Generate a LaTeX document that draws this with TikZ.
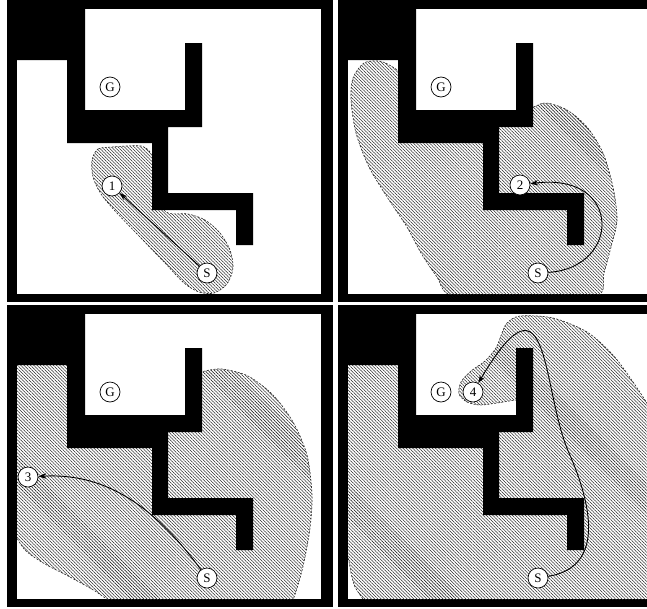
\documentclass[tikz,border=0pt]{standalone}
\usepackage{fontspec}
\setmainfont{Liberation Serif}
\usetikzlibrary{patterns.meta,arrows.meta}
\tikzset{
  region/.style={draw=black!85, dash pattern=on 2pt off 1.5pt, line width=0.6pt,
    pattern={Lines[angle=-45,distance=2.3pt,line width=0.55pt]}, pattern color=black!85},
  place/.style={circle, draw, fill=white, line width=0.7pt, minimum size=20pt, inner sep=0pt,
    font=\fontsize{13}{13}\selectfont},
  patharrow/.style={line width=0.9pt, -{Stealth[length=8pt,width=5.5pt]}},
}
\newcommand\mazebase{%
  \fill[black] (7,0) rectangle (333,302);
  \fill[white] (17,9) rectangle (321,294);}
\newcommand\mazewalls{%
  \fill[black] (17,9) -- (85,9) -- (85,110) -- (185,110) -- (185,43) -- (202,43) -- (202,127)
    -- (168,127) -- (168,193) -- (253,193) -- (253,245) -- (236,245) -- (236,210) -- (152,210)
    -- (152,143) -- (67,143) -- (67,60) -- (17,60) -- cycle;}
\newcommand\mazeclip{\clip (17,9) rectangle (321,294);}
\begin{document}
\begin{tikzpicture}[x=1pt,y=-1pt]
\useasboundingbox (0,0) rectangle (647,608);
\fill[white] (0,0) rectangle (647,608);
% ---------------- panel 1
\begin{scope}
  \mazebase
  \begin{scope}\mazeclip
    \filldraw[region] plot[smooth cycle] coordinates {(92,160) (98,149) (112,147) (127,146) (141,146) (150,152) (156,170) (158,200) (168,213) (188,214) (205,220) (220,233) (230,250) (233,268) (227,284) (214,293) (199,292) (184,283) (165,263) (140,237) (116,212) (101,194) (93,177)};
  \end{scope}
  \mazewalls
  \node[place] (G1) at (110,87) {G};
  \node[place] (n1) at (112,186) {1};
  \node[place] (S1) at (207,273) {S};
  \draw[patharrow] (S1) -- (n1);
\end{scope}
% ---------------- panel 2
\begin{scope}[shift={(331,0)}]
  \mazebase
  \begin{scope}\mazeclip
    \filldraw[region] plot[smooth cycle] coordinates {(72,100) (70,75) (60,66) (48,61) (33,63) (22,78) (20,100) (25,133) (38,167) (58,200) (76,227) (90,253) (106,277) (122,296) (200,302) (266,296) (273,273) (280,247) (286,220) (282,187) (272,153) (256,127) (236,110) (215,103) (200,108) (150,128) (90,128)};
  \end{scope}
  \mazewalls
  \node[place] (G2) at (110,87) {G};
  \node[place] (n2) at (189,185) {2};
  \node[place] (S2) at (207,273) {S};
  \draw[patharrow] (S2) .. controls (290,268) and (292,172) .. (n2);
\end{scope}
% ---------------- panel 3
\begin{scope}[shift={(0,305)}]
  \mazebase
  \begin{scope}\mazeclip
    \filldraw[region] (80,125) -- (80,50) -- (10,50) -- (10,228)
      -- plot[smooth] coordinates {(17,233) (26,246) (45,259) (70,272) (95,286) (112,298)}
      -- plot[smooth] coordinates {(292,298) (298,280) (304,257) (310,223) (312,190) (307,150) (293,117) (273,90) (248,71) (222,64) (205,66)}
      -- (193,70) -- (193,125) -- cycle;
  \end{scope}
  \mazewalls
  \node[place] (G3) at (110,87) {G};
  \node[place] (n3) at (28,172) {3};
  \node[place] (S3) at (207,273) {S};
  \draw[patharrow] (S3) .. controls (150,195) and (100,168) .. (n3);
\end{scope}
% ---------------- panel 4
\begin{scope}[shift={(331,305)}]
  \mazebase
  \begin{scope}\mazeclip
    \filldraw[region] (10,50) -- (80,50) -- (80,125) -- (193,125) -- (193,96)
      -- plot[smooth] coordinates {(184,95) (166,98) (149,100) (136,97) (128,89) (130,77) (140,66) (154,56) (165,43) (171,28) (176,18) (189,11) (222,13) (256,27) (282,50) (302,77) (318,102) (330,130)}
      -- (330,300) -- (36,300)
      -- plot[smooth] coordinates {(32,294) (24,282) (20,268) (17,253) (10,248)} -- cycle;
  \end{scope}
  \mazewalls
  \node[place] (G4) at (110,87) {G};
  \node[place] (n4) at (142,87) {4};
  \node[place] (S4) at (207,273) {S};
  \coordinate (m4) at (238,148);
  \draw[patharrow] (S4) .. controls (275,262) and (260,198) .. (m4)
    .. controls (210,85) and (220,-45) .. (n4);
\end{scope}
\end{tikzpicture}
\end{document}
